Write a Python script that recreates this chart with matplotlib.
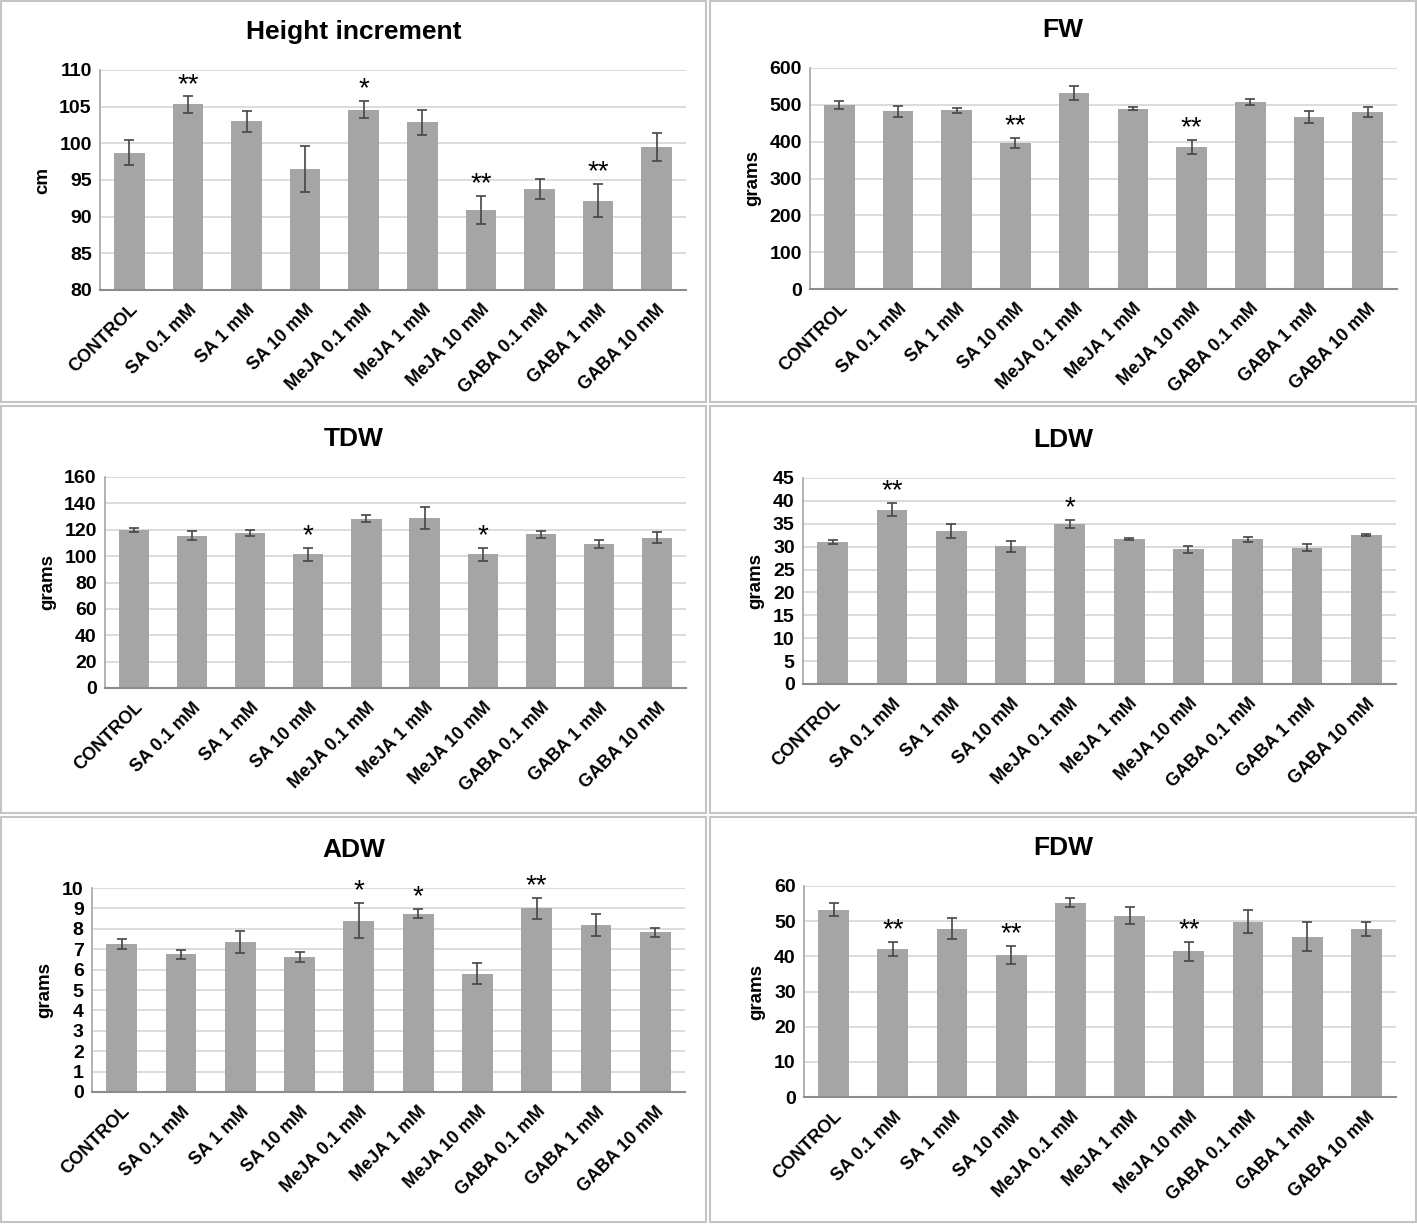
import matplotlib
matplotlib.use('Agg')
import matplotlib.pyplot as plt
from matplotlib.patches import Rectangle
import numpy as np

plt.rcParams['font.family'] = ['Liberation Sans', 'DejaVu Sans']
plt.rcParams['font.weight'] = 'bold'

# data
categories = ['CONTROL', 'SA 0.1 mM', 'SA 1 mM', 'SA 10 mM', 'MeJA 0.1 mM',
              'MeJA 1 mM', 'MeJA 10 mM', 'GABA 0.1 mM', 'GABA 1 mM', 'GABA 10 mM']

height_mean = [98.7, 105.3, 103.0, 96.5, 104.6, 102.9, 90.9, 93.8, 92.2, 99.5]
height_err = [1.7, 1.1, 1.4, 3.1, 1.2, 1.7, 1.9, 1.4, 2.3, 1.9]
height_sig = ['', '**', '', '', '*', '', '**', '', '**', '']

fw_mean = [500, 482, 485, 397, 532, 490, 385, 507, 467, 480]
fw_err = [10, 14, 6, 13, 18, 5, 19, 8, 15, 13]
fw_sig = ['', '', '', '**', '', '', '**', '', '', '']

tdw_mean = [120.0, 115.5, 117.5, 101.5, 128.5, 129.0, 101.5, 116.5, 109.0, 114.0]
tdw_err = [1.5, 3.5, 2.5, 5.0, 3.0, 8.5, 5.0, 2.5, 3.0, 4.0]
tdw_sig = ['', '', '', '*', '', '', '*', '', '', '']

ldw_mean = [31.0, 38.1, 33.5, 30.1, 35.0, 31.6, 29.4, 31.6, 29.8, 32.5]
ldw_err = [0.5, 1.5, 1.5, 1.2, 0.9, 0.2, 0.7, 0.5, 0.8, 0.2]
ldw_sig = ['', '**', '', '', '*', '', '', '', '', '']

adw_mean = [7.25, 6.75, 7.35, 6.62, 8.4, 8.75, 5.8, 9.0, 8.2, 7.83]
adw_err = [0.25, 0.22, 0.55, 0.25, 0.85, 0.22, 0.53, 0.52, 0.55, 0.23]
adw_sig = ['', '', '', '', '*', '*', '', '**', '', '']

fdw_mean = [53.3, 42.0, 47.9, 40.3, 55.3, 51.6, 41.5, 49.8, 45.6, 47.7]
fdw_err = [1.8, 2.0, 2.9, 2.6, 1.4, 2.4, 2.7, 3.3, 4.2, 2.0]
fdw_sig = ['', '**', '', '**', '', '', '**', '', '', '']

W, H = 1417, 1224
fig = plt.figure(figsize=(W / 100, H / 100), dpi=100)

# panel frames and plot areas in pixels (x0, y0, x1, y1)
panels = [
    ('Height increment', 'cm', height_mean, height_err, height_sig, (80, 110), 5,
     (1, 1, 706, 402), (100, 70, 686, 290)),
    ('FW', 'grams', fw_mean, fw_err, fw_sig, (0, 600), 100,
     (710, 1, 1416, 402), (810, 68, 1397, 289)),
    ('TDW', 'grams', tdw_mean, tdw_err, tdw_sig, (0, 160), 20,
     (1, 406, 706, 813), (105, 477, 686, 688)),
    ('LDW', 'grams', ldw_mean, ldw_err, ldw_sig, (0, 45), 5,
     (710, 406, 1416, 813), (803, 478, 1396, 684)),
    ('ADW', 'grams', adw_mean, adw_err, adw_sig, (0, 10), 1,
     (1, 817, 706, 1222), (92, 888, 685, 1092)),
    ('FDW', 'grams', fdw_mean, fdw_err, fdw_sig, (0, 60), 10,
     (710, 817, 1416, 1222), (804, 886, 1396, 1097)),
]

x = np.arange(len(categories))
for title, ylab, mean, err, sig, ylim, step, frame, (x0, y0, x1, y1) in panels:
    fx0, fy0, fx1, fy1 = frame
    fig.patches.append(Rectangle((fx0 / W, 1 - fy1 / H), (fx1 - fx0) / W, (fy1 - fy0) / H,
                                 transform=fig.transFigure, fill=False,
                                 edgecolor='#c4c4c4', linewidth=1.5))
    ax = fig.add_axes([x0 / W, 1 - y1 / H, (x1 - x0) / W, (y1 - y0) / H])
    ax.bar(x, mean, width=0.52, color='#a5a5a5', zorder=2)
    ax.errorbar(x, mean, yerr=err, fmt='none', ecolor='#454545',
                elinewidth=1.2, capsize=3.5, capthick=1.2, zorder=3)
    for xi, m, e, s in zip(x, mean, err, sig):
        if s:
            ax.annotate(s, (xi, m + e), xytext=(0, -1), textcoords='offset points',
                        ha='center', va='bottom', fontsize=20, fontweight='normal')
    ax.set_xlim(-0.5, len(categories) - 0.5)
    ax.set_ylim(*ylim)
    ax.set_yticks(np.arange(ylim[0], ylim[1] + step / 2, step))
    ax.yaxis.grid(True, color='#d9d9d9', linewidth=1.3, zorder=0)
    ax.set_axisbelow(True)
    ax.set_xticks(x)
    ax.set_xticklabels(categories, rotation=45, ha='right', rotation_mode='anchor')
    ax.tick_params(axis='y', length=0, labelsize=14, pad=6)
    ax.tick_params(axis='x', length=0, labelsize=13, pad=8)
    for sp in ['top', 'right']:
        ax.spines[sp].set_visible(False)
    ax.spines['left'].set_color('#a6a6a6')
    ax.spines['bottom'].set_color('#8c8c8c')
    ax.spines['left'].set_linewidth(1.2)
    ax.spines['bottom'].set_linewidth(1.5)
    ax.set_ylabel(ylab, fontsize=13.5, fontweight='bold', labelpad=6)
    # title centred on the whole panel, as in the source
    tx = ((fx0 + fx1) / 2 - x0) / (x1 - x0)
    ax.set_title(title, fontsize=19, fontweight='bold', pad=22, x=tx)

fig.savefig('out.png', dpi=100, facecolor='white')
